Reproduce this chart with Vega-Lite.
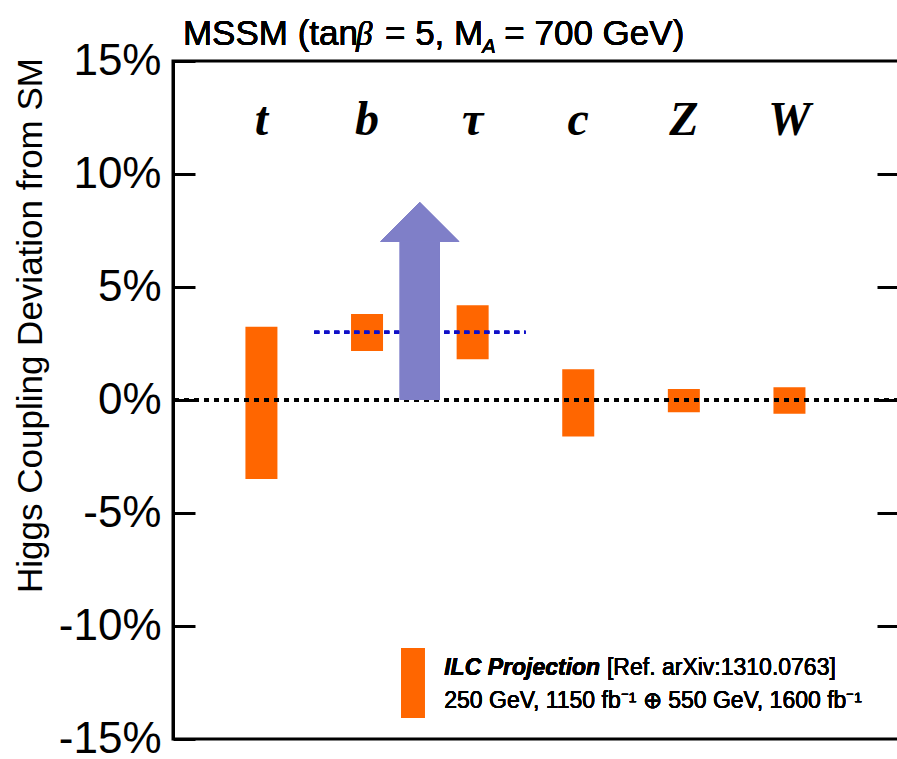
{
  "$schema": "https://vega.github.io/schema/vega-lite/v6.json",
  "autosize": "none",
  "padding": {"left": 173, "top": 61, "right": 0, "bottom": 20},
  "width": 726,
  "height": 678,
  "background": "white",
  "config": {
    "font": "Liberation Sans",
    "view": {"stroke": "black", "strokeWidth": 3}
  },
  "datasets": {
    "couplings": [
      {"coupling": "t", "idx": 0, "low": -3.50, "high": 3.24},
      {"coupling": "b", "idx": 1, "low": 2.17, "high": 3.81},
      {"coupling": "τ", "idx": 2, "low": 1.80, "high": 4.19},
      {"coupling": "c", "idx": 3, "low": -1.62, "high": 1.36},
      {"coupling": "Z", "idx": 4, "low": -0.54, "high": 0.49},
      {"coupling": "W", "idx": 5, "low": -0.61, "high": 0.56}
    ]
  },
  "data": {"name": "couplings"},
  "resolve": {"axis": {"y": "independent"}},
  "layer": [
    {
      "mark": {"type": "bar", "size": 32, "color": "#ff6600"},
      "encoding": {
        "x": {"field": "idx", "type": "quantitative", "scale": {"domain": [-0.79, 5.99], "nice": false, "zero": false}, "axis": null},
        "y": {
          "field": "low", "type": "quantitative",
          "scale": {"domain": [-15, 15], "nice": false, "zero": false},
          "axis": {
            "orient": "left",
            "values": [-15, -10, -5, 0, 5, 10, 15],
            "labelExpr": "datum.value + '%'",
            "labelFont": "Liberation Sans",
            "labelFontSize": 44,
            "labelColor": "black",
            "labelPadding": 34,
            "labelFlush": false,
            "labelOverlap": false,
            "tickSize": -22,
            "tickWidth": 3,
            "tickColor": "black",
            "domainColor": "black",
            "domainWidth": 3,
            "grid": false,
            "title": "Higgs Coupling Deviation from SM",
            "titleFont": "Liberation Sans",
            "titleFontSize": 35,
            "titleFontWeight": "normal",
            "titleColor": "black",
            "titleAngle": -90,
            "titleAlign": "center",
            "titleBaseline": "alphabetic",
            "titleX": -132,
            "titleY": 264
          }
        },
        "y2": {"field": "high"}
      }
    },
    {
      "mark": {"type": "rule", "color": "black", "strokeWidth": 3, "strokeDash": [5, 5]},
      "encoding": {
        "y": {
          "datum": 0, "type": "quantitative",
          "axis": {
            "orient": "right",
            "values": [-10, -5, 0, 5, 10],
            "labels": false,
            "tickSize": -22,
            "tickWidth": 3,
            "tickColor": "black",
            "domainColor": "black",
            "domainWidth": 3,
            "grid": false,
            "title": null
          }
        }
      }
    },
    {
      "mark": {"type": "rule", "color": "#1010c8", "strokeWidth": 3, "strokeDash": [5, 5]},
      "encoding": {
        "x": {"datum": 0.5, "type": "quantitative", "axis": null},
        "x2": {"datum": 2.5},
        "y": {"datum": 3.0, "type": "quantitative", "axis": null}
      }
    },
    {
      "mark": {"type": "bar", "size": 40, "color": "#7f7fc8"},
      "encoding": {
        "x": {"datum": 1.5, "type": "quantitative", "axis": null},
        "y": {"datum": 0, "type": "quantitative", "axis": null},
        "y2": {"datum": 7.0}
      }
    },
    {
      "mark": {"type": "point", "shape": "M-1,0L1,0L0,-1Z", "size": 6241, "filled": true, "color": "#7f7fc8", "opacity": 1, "strokeWidth": 0},
      "encoding": {
        "x": {"datum": 1.5, "type": "quantitative", "axis": null},
        "y": {"datum": 7.0, "type": "quantitative", "axis": null}
      }
    },
    {
      "mark": {"type": "text", "font": "Liberation Serif", "fontStyle": "italic", "fontWeight": "bold", "fontSize": 48, "align": "center", "baseline": "alphabetic", "color": "black"},
      "encoding": {
        "x": {"field": "idx", "type": "quantitative", "axis": null},
        "y": {"datum": 11.73, "type": "quantitative", "axis": null},
        "text": {"field": "coupling"}
      }
    },
    {
      "mark": {"type": "bar", "size": 23, "color": "#ff6600"},
      "encoding": {
        "x": {"datum": 1.435, "type": "quantitative", "axis": null},
        "y": {"datum": -10.97, "type": "quantitative", "axis": null},
        "y2": {"datum": -14.07}
      }
    },
    {
      "mark": {"type": "text", "fontStyle": "italic", "fontWeight": "bold", "fontSize": 23, "align": "left", "baseline": "alphabetic", "color": "black", "text": "ILC Projection"},
      "encoding": {
        "x": {"datum": 1.731, "type": "quantitative", "axis": null},
        "y": {"datum": -12.17, "type": "quantitative", "axis": null}
      }
    },
    {
      "mark": {"type": "text", "fontSize": 23, "align": "left", "baseline": "alphabetic", "color": "black", "text": "[Ref. arXiv:1310.0763]"},
      "encoding": {
        "x": {"datum": 3.272, "type": "quantitative", "axis": null},
        "y": {"datum": -12.17, "type": "quantitative", "axis": null}
      }
    },
    {
      "mark": {"type": "text", "fontSize": 23, "align": "left", "baseline": "alphabetic", "color": "black", "text": "250 GeV, 1150 fb⁻¹ ⊕ 550 GeV, 1600 fb⁻¹"},
      "encoding": {
        "x": {"datum": 1.731, "type": "quantitative", "axis": null},
        "y": {"datum": -13.63, "type": "quantitative", "axis": null}
      }
    },
    {
      "mark": {"type": "text", "fontSize": 35, "align": "left", "baseline": "alphabetic", "color": "black", "text": "MSSM (tan"},
      "encoding": {
        "x": {"datum": -0.743, "type": "quantitative", "axis": null},
        "y": {"datum": 15.71, "type": "quantitative", "axis": null}
      }
    },
    {
      "mark": {"type": "text", "font": "Liberation Serif", "fontStyle": "italic", "fontSize": 33, "align": "left", "baseline": "alphabetic", "color": "black", "text": "β"},
      "encoding": {
        "x": {"datum": 0.895, "type": "quantitative", "axis": null},
        "y": {"datum": 15.71, "type": "quantitative", "axis": null}
      }
    },
    {
      "mark": {"type": "text", "fontSize": 35, "align": "left", "baseline": "alphabetic", "color": "black", "text": "= 5, M"},
      "encoding": {
        "x": {"datum": 1.17, "type": "quantitative", "axis": null},
        "y": {"datum": 15.71, "type": "quantitative", "axis": null}
      }
    },
    {
      "mark": {"type": "text", "fontStyle": "italic", "fontSize": 20, "align": "left", "baseline": "alphabetic", "color": "black", "text": "A"},
      "encoding": {
        "x": {"datum": 2.09, "type": "quantitative", "axis": null},
        "y": {"datum": 15.35, "type": "quantitative", "axis": null}
      }
    },
    {
      "mark": {"type": "text", "fontSize": 35, "align": "left", "baseline": "alphabetic", "color": "black", "text": "= 700 GeV)"},
      "encoding": {
        "x": {"datum": 2.30, "type": "quantitative", "axis": null},
        "y": {"datum": 15.71, "type": "quantitative", "axis": null}
      }
    }
  ]
}
